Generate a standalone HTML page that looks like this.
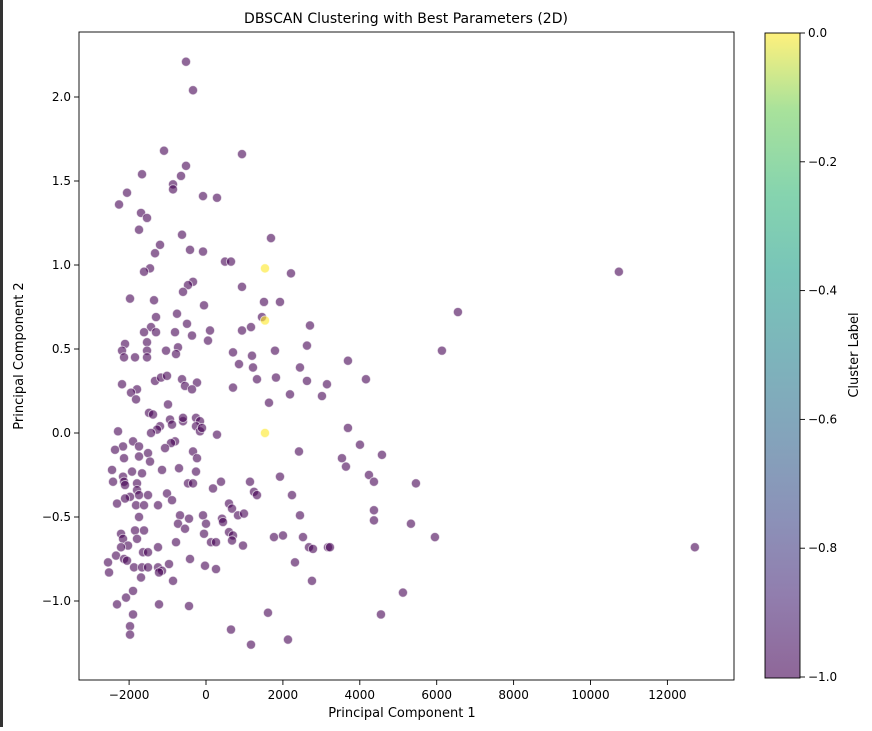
<!DOCTYPE html>
<html><head><meta charset="utf-8"><style>
body{margin:0;background:#fff;width:872px;height:727px;overflow:hidden;font-family:"DejaVu Sans","Liberation Sans",sans-serif}
</style></head><body>
<svg id="chart" width="872" height="727" xmlns="http://www.w3.org/2000/svg" font-family="DejaVu Sans, Liberation Sans, sans-serif">
<rect x="0" y="0" width="3" height="727" fill="#333"/>
<defs><linearGradient id="vir" x1="0" y1="1" x2="0" y2="0">
<stop offset="0" stop-color="#440154"/><stop offset="0.13" stop-color="#482878"/><stop offset="0.25" stop-color="#3e4989"/><stop offset="0.38" stop-color="#31688e"/><stop offset="0.5" stop-color="#26828e"/><stop offset="0.63" stop-color="#1f9e89"/><stop offset="0.75" stop-color="#35b779"/><stop offset="0.88" stop-color="#6ece58"/><stop offset="1" stop-color="#fde725"/></linearGradient></defs>
<text x="406" y="23" text-anchor="middle" font-size="14">DBSCAN Clustering with Best Parameters (2D)</text>
<g id="plot"></g>
<rect x="79" y="32" width="655" height="648" fill="none" stroke="#000" stroke-width="0.9"/>
<text x="402" y="717" text-anchor="middle" font-size="13">Principal Component 1</text>
<text transform="translate(23,356) rotate(-90)" text-anchor="middle" font-size="13">Principal Component 2</text>
<rect x="765" y="33" width="35" height="645" fill="url(#vir)" opacity="0.6"/>
<rect x="765" y="33" width="35" height="645" fill="none" stroke="#000" stroke-width="0.9"/>
<g id="cbticks"></g>
<text transform="translate(858,355) rotate(-90)" text-anchor="middle" font-size="13">Cluster Label</text>
</svg>
<script>
const xTicks=[-2000,0,2000,4000,6000,8000,10000,12000];
const yTicks=[-1.0,-0.5,0.0,0.5,1.0,1.5,2.0];
const cbTicks=[0.0,-0.2,-0.4,-0.6,-0.8,-1.0];
const noiseX=[-520,-338,-1092,936,-520,-1664,-650,-858,-858,-2054,-78,286,-2262,-1690,-1534,-1742,-624,1690,-1196,-1326,-416,-78,494,650,-1456,-1612,2210,-338,-468,-598,936,-1976,-1352,1508,1924,-52,-1300,-754,1456,-494,-1430,2704,-1612,-1300,-806,-364,104,936,1170,-2106,-1534,52,2626,-2184,-1534,-1040,-728,-780,702,1196,1794,-2132,-1846,-1534,
858,1222,2444,1326,1820,2626,3146,-1326,-1170,-1014,-624,-234,-546,-364,-2184,-1794,-1950,-1820,702,2184,3016,1638,-988,-1482,-1378,-936,-884,-598,-598,-260,-156,-1196,-1274,-260,-156,-104,-2288,-1430,286,-1898,-1742,-2158,-2366,-806,-910,-1066,-1508,-1456,-2132,-1742,-338,-234,2418,-2444,-1924,-1664,-1144,-702,-260,-2158,-2418,-2132,-2106,-1794,1924,-468,-338,390,182,1144,1248,1326,2236,-1794,-1742,-1976,-2106,-1508,-1014,-884,-2314,-1820,-1612,-1248,-1742,598,676,832,988,-676,-442,-78,416,442,2444,-728,-546,0,-1846,-1612,-2210,-2158,598,702,676,-52,1768,2002,2522,3172,-1794,-2028,-2210,-780,130,260,962,2678,2782,-2340,-1638,-1508,-1248,-2548,-2132,-2054,-416,2314,-1872,-1664,-1508,-1248,-1144,-1222,-962,-26,260,-2522,-1690,-858,2756,-1898,-2080,-2314,-1222,-442,-1898,1612,-1976,-1976,650,1170,2132,
6136,3692,4160,3692,4004,4576,3536,3640,4238,4368,5460,4368,4368,5330,5954,3224,5122,4550,10738,6552,12714];
const noiseY=[2.21,2.04,1.68,1.66,1.59,1.54,1.53,1.48,1.45,1.43,1.41,1.40,1.36,1.31,1.28,1.21,1.18,1.16,1.12,1.07,1.09,1.08,1.02,1.02,0.98,0.96,0.95,0.90,0.88,0.84,0.87,0.80,0.79,0.78,0.78,0.76,0.69,0.71,0.69,0.65,0.63,0.64,0.60,0.60,0.60,0.58,0.61,0.61,0.63,0.53,0.54,0.55,0.52,0.49,0.49,0.49,0.51,0.47,0.48,0.46,0.49,0.45,0.45,0.45,
0.41,0.39,0.39,0.32,0.33,0.31,0.29,0.31,0.33,0.34,0.32,0.30,0.28,0.26,0.29,0.26,0.24,0.20,0.27,0.23,0.22,0.18,0.17,0.12,0.11,0.08,0.05,0.07,0.09,0.09,0.07,0.04,0.02,0.04,0.01,0.03,0.01,0,-0.01,-0.05,-0.08,-0.08,-0.10,-0.05,-0.06,-0.09,-0.12,-0.17,-0.15,-0.14,-0.11,-0.15,-0.11,-0.22,-0.23,-0.24,-0.22,-0.21,-0.23,-0.26,-0.29,-0.29,-0.31,-0.30,-0.26,-0.30,-0.30,-0.29,-0.33,-0.29,-0.35,-0.37,-0.37,-0.34,-0.37,-0.38,-0.39,-0.37,-0.36,-0.40,-0.42,-0.43,-0.43,-0.43,-0.50,-0.42,-0.45,-0.49,-0.48,-0.49,-0.51,-0.49,-0.51,-0.53,-0.49,-0.54,-0.57,-0.54,-0.58,-0.58,-0.60,-0.63,-0.59,-0.61,-0.64,-0.60,-0.62,-0.61,-0.62,-0.68,-0.63,-0.67,-0.68,-0.65,-0.65,-0.65,-0.67,-0.68,-0.69,-0.73,-0.71,-0.71,-0.68,-0.77,-0.75,-0.76,-0.75,-0.77,-0.80,-0.80,-0.80,-0.80,-0.82,-0.83,-0.78,-0.79,-0.81,-0.83,-0.86,-0.88,-0.88,-0.94,-0.98,-1.02,-1.02,-1.03,-1.08,-1.07,-1.15,-1.20,-1.17,-1.26,-1.23,
0.49,0.43,0.32,0.03,-0.07,-0.13,-0.15,-0.20,-0.25,-0.29,-0.30,-0.46,-0.52,-0.54,-0.62,-0.68,-0.95,-1.08,0.96,0.72,-0.68];
const clusterX=[1534,1534,1534];
const clusterY=[0.98,0.67,0.0];
const NS="http://www.w3.org/2000/svg";
const sx=v=>206+v*0.03845;
const sy=v=>433-v*168;
const cy=v=>33+(-v)*644;
const plot=document.getElementById('plot');
function mk(tag,attrs,parent){const e=document.createElementNS(NS,tag);for(const k in attrs)e.setAttribute(k,attrs[k]);parent.appendChild(e);return e;}
xTicks.forEach(t=>{
  const l=mk('line',{x1:sx(t),x2:sx(t),y1:680,y2:685,stroke:'#000','stroke-width':0.9},plot);
  
  
  const tx=mk('text',{x:sx(t),y:699,'text-anchor':'middle','font-size':12},plot);
  tx.textContent=t<0?'\u2212'+Math.abs(t):String(t);
  
  
});
yTicks.forEach(t=>{
  const l=mk('line',{x1:74,x2:79,y1:sy(t),y2:sy(t),stroke:'#000','stroke-width':0.9},plot);
  
  
  const tx=mk('text',{x:71,y:sy(t)+4,'text-anchor':'end','font-size':12},plot);
  tx.textContent=(t<0?'\u2212':'')+Math.abs(t).toFixed(1);
  
  
});
noiseX.forEach((x,i)=>{
  const c=mk('circle',{cx:sx(x),cy:sy(noiseY[i]),r:4.6,fill:'#440154','fill-opacity':0.6,stroke:'#fff','stroke-opacity':0.6,'stroke-width':1},plot);
  
  
});
clusterX.forEach((x,i)=>{
  const c=mk('circle',{cx:sx(x),cy:sy(clusterY[i]),r:4.6,fill:'#fde725','fill-opacity':0.6,stroke:'#fff','stroke-opacity':0.6,'stroke-width':1},plot);
  
  
});
const cb=document.getElementById('cbticks');
cbTicks.forEach(t=>{
  const l=mk('line',{x1:800,x2:805,y1:cy(t),y2:cy(t),stroke:'#000','stroke-width':0.9},cb);
  
  
  const tx=mk('text',{x:808,y:cy(t)+4,'font-size':12},cb);
  tx.textContent=(t<0?'\u2212':'')+Math.abs(t).toFixed(1);
  
  
});
</script>
</body></html>
